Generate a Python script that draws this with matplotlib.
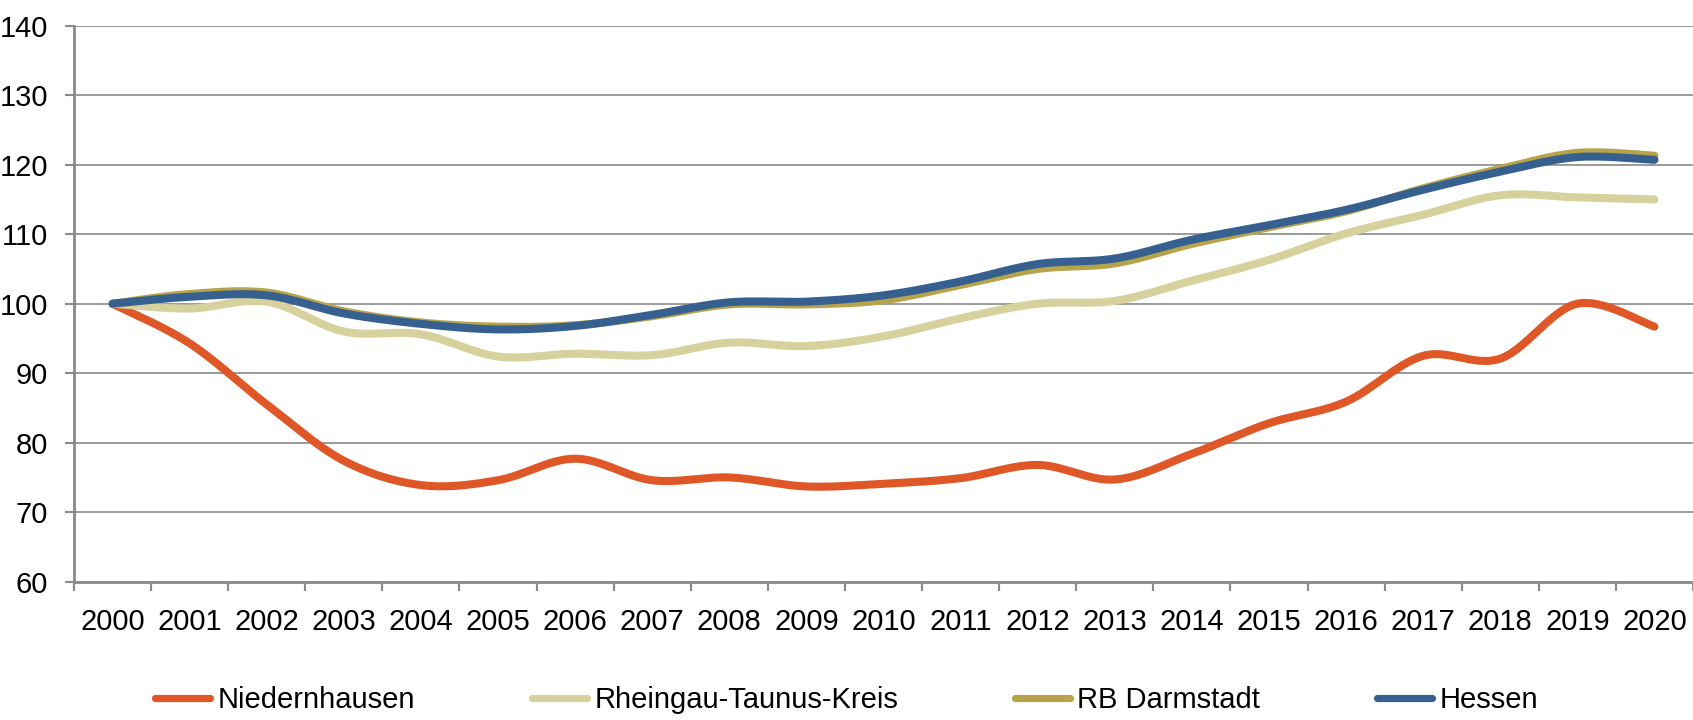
import numpy as np
import matplotlib
matplotlib.use("Agg")
import matplotlib.pyplot as plt
from matplotlib.lines import Line2D

years = [str(y) for y in range(2000, 2021)]
niedernhausen = [100, 94.3, 85.5, 77.4, 73.9, 74.6, 77.7, 74.6, 75.0, 73.7, 74.1, 74.9,
                 76.8, 74.7, 78.4, 82.8, 85.9, 92.5, 92.1, 100.0, 96.7]
rheingau = [100, 99.3, 100.3, 96.0, 95.6, 92.4, 92.8, 92.6, 94.4, 93.9, 95.3, 97.9,
            100.0, 100.4, 103.3, 106.3, 110.1, 112.8, 115.6, 115.3, 115.0]
darmstadt = [100, 101.4, 101.6, 98.9, 97.3, 96.7, 96.9, 98.2, 99.9, 99.9, 100.5, 102.7,
             105.0, 105.8, 108.6, 111.0, 113.3, 116.6, 119.4, 121.7, 121.3]
hessen = [100, 101.0, 101.2, 98.6, 97.1, 96.3, 96.8, 98.4, 100.2, 100.3, 101.2, 103.2,
          105.7, 106.5, 109.2, 111.3, 113.5, 116.4, 119.0, 121.1, 120.7]

series_names = ["Niedernhausen", "Rheingau-Taunus-Kreis", "RB Darmstadt", "Hessen"]
series_vals = [niedernhausen, rheingau, darmstadt, hessen]
colors = ["#DF5726", "#D7D19E", "#B7A44A", "#36608F"]
yticks = [60, 70, 80, 90, 100, 110, 120, 130, 140]

FONT = ["Liberation Sans Narrow", "Liberation Sans", "DejaVu Sans"]
plt.rcParams["font.family"] = FONT
FS = 21


def smooth(xs, ys, n=30):
    """Catmull-Rom style Bezier smoothing through the points (like Excel smoothed lines)."""
    P = np.column_stack([xs, ys]).astype(float)
    m = len(P)
    out = []
    for i in range(m - 1):
        p0 = P[i - 1] if i > 0 else P[i]
        p1 = P[i]
        p2 = P[i + 1]
        p3 = P[i + 2] if i + 2 < m else P[i + 1]
        c1 = p1 + (p2 - p0) / 6.0
        c2 = p2 - (p3 - p1) / 6.0
        t = np.linspace(0, 1, n, endpoint=(i == m - 2))[:, None]
        b = ((1 - t) ** 3) * p1 + 3 * ((1 - t) ** 2) * t * c1 + 3 * (1 - t) * t ** 2 * c2 + t ** 3 * p2
        out.append(b)
    out = np.vstack(out)
    return out[:, 0], out[:, 1]


fig = plt.figure(figsize=(16.93, 7.2), dpi=100)
ax = fig.add_axes([74 / 1693, 1 - 581.7 / 720, 1 - 74 / 1693, (581.7 - 25.7) / 720])

x = np.arange(len(years))
for name, vals, col in zip(series_names, series_vals, colors):
    sx, sy = smooth(x, vals)
    ax.plot(sx, sy, color=col, lw=5.8, solid_capstyle="round", solid_joinstyle="round",
            label=name, zorder=3)

ax.set_xlim(-0.5, len(years) - 0.5)
ax.set_ylim(60, 140)
ax.set_yticks(yticks)
ax.set_yticklabels([str(v) for v in yticks])

ax.set_xticks(np.arange(-0.5, len(years), 1.0))
ax.set_xticklabels([])
ax.set_xticks(x, minor=True)
ax.set_xticklabels(years, minor=True)

ax.yaxis.grid(True, color="#8A8A8A", lw=1.2)
ax.set_axisbelow(True)
for s in ["top", "right"]:
    ax.spines[s].set_visible(False)
for s in ["left", "bottom"]:
    ax.spines[s].set_color("#8A8A8A")
    ax.spines[s].set_linewidth(2.0)

ax.tick_params(axis="y", which="major", length=6.5, width=1.5, color="#8A8A8A",
               labelsize=FS, pad=12)
ax.tick_params(axis="x", which="major", length=6.5, width=1.5, color="#8A8A8A", direction="out")
ax.tick_params(axis="x", which="minor", length=0, labelsize=FS, pad=19)

handles = [Line2D([0], [0], color=c, lw=5.2, solid_capstyle="round") for c in colors]
fig.legend(handles, series_names, loc="lower center", bbox_to_anchor=(0.5, 0.0),
           ncol=4, frameon=False, fontsize=FS, handlelength=1.9, handletextpad=0.25,
           columnspacing=4.0, borderaxespad=0.1, borderpad=0.1)

fig.savefig("out.png", dpi=100, facecolor="white")
